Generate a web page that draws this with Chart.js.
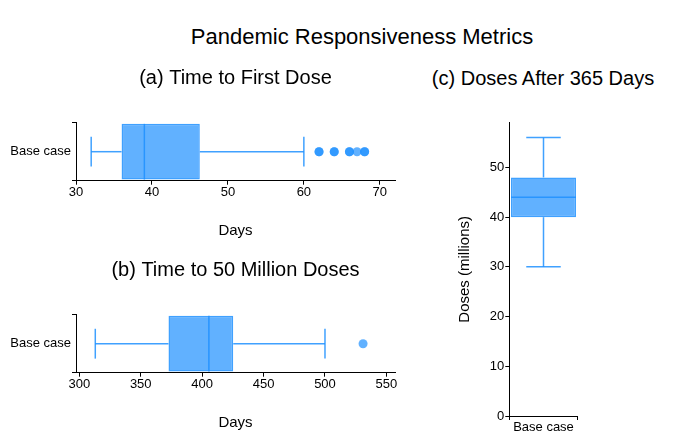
<!DOCTYPE html>
<html>
<head>
<meta charset="utf-8">
<script src="https://cdn.jsdelivr.net/npm/chart.js@4.4.1/dist/chart.umd.min.js"></script>
<style>
  body { margin: 0; background: #fff; font-family: "Liberation Sans", Arial, sans-serif; }
  #page { position: relative; width: 687px; height: 444px; overflow: hidden; }
  .txt { position: absolute; text-align: center; color: #000; }
  #main-title { left: 62px; width: 600px; top: 24px; font-size: 22px; line-height: 26px; }
  #title-c { left: 393px; width: 300px; top: 66px; font-size: 20px; line-height: 24px; }
  .box { position: absolute; }
</style>
</head>
<body>
<div id="page">
  <div id="main-title" class="txt">Pandemic Responsiveness Metrics</div>
  <div id="title-c" class="txt">(c) Doses After 365 Days</div>
  <div class="box" style="left:0;top:0;width:420px;height:250px"><canvas id="chart-a"></canvas></div>
  <div class="box" style="left:0;top:192px;width:420px;height:250px"><canvas id="chart-b"></canvas></div>
  <div class="box" style="left:420px;top:0;width:267px;height:444px"><canvas id="chart-c"></canvas></div>
</div>
<script>
// data: [min whisker, Q1, median, Q3, max whisker]
const categories = ['Base case'];
const firstDoseStats = [32, 36, 39, 46.3, 60];
const firstDoseOutliers = [62, 62, 64, 64, 66, 66, 67, 68, 68];
const fiftyMillionStats = [313, 372.6, 405.5, 425.3, 500];
const fiftyMillionOutliers = [531];
const dosesStats = [30, 40, 44, 48, 56];

const firstDoseRange = [30, 72];
const firstDoseTicks = [30, 40, 50, 60, 70];
const fiftyMillionRange = [297.3, 557];
const fiftyMillionTicks = [300, 350, 400, 450, 500, 550];
const dosesRange = [0, 59];
const dosesTicks = [0, 10, 20, 30, 40, 50];

const FONT = '"Liberation Sans", Arial, sans-serif';
const BLUE_FILL = 'rgba(30,144,255,0.7)';
const BLUE_LINE = 'rgba(30,144,255,0.85)';

// draws whiskers, caps and median on top of the floating bar
const boxWhiskers = {
  id: 'boxWhiskers',
  afterDatasetsDraw(chart, args, opts) {
    if (!opts.stats) return;
    const bar = chart.getDatasetMeta(0).data[0];
    const horizontal = chart.options.indexAxis === 'y';
    const vScale = horizontal ? chart.scales.x : chart.scales.y;
    const [lo, q1, med, q3, hi] = opts.stats.map(v => vScale.getPixelForValue(v));
    const p = bar.getProps(['x', 'y', 'width', 'height'], true);
    const ctx = chart.ctx;
    const seg = (x1, y1, x2, y2) => { ctx.beginPath(); ctx.moveTo(x1, y1); ctx.lineTo(x2, y2); ctx.stroke(); };
    ctx.save();
    ctx.strokeStyle = BLUE_LINE;
    ctx.lineWidth = 1.5;
    if (horizontal) {
      const c = p.y, half = p.height / 2, cap = half / 2 + 1;
      seg(lo, c, q1, c);
      seg(q3, c, hi, c);
      seg(lo, c - cap, lo, c + cap);
      seg(hi, c - cap, hi, c + cap);
      seg(med, c - half, med, c + half);
    } else {
      const c = p.x, half = p.width / 2, cap = half / 2 + 1;
      seg(c, lo, c, q1);
      seg(c, q3, c, hi);
      seg(c - cap, lo, c + cap, lo);
      seg(c - cap, hi, c + cap, hi);
      seg(c - half, med, c + half, med);
    }
    ctx.restore();
  }
};

function axisGrid(len) {
  return { display: true, drawOnChartArea: false, drawTicks: true, tickLength: len, color: '#000' };
}

function fixedTicks(values) {
  return function (scale) { scale.ticks = values.map(v => ({ value: v })); };
}

function horizontalBox(id, title, stats, outliers, range, tickValues) {
  new Chart(document.getElementById(id), {
    type: 'bar',
    data: {
      labels: categories,
      datasets: [{
        data: [[stats[1], stats[3]]],
        backgroundColor: BLUE_FILL,
        borderColor: BLUE_LINE,
        borderWidth: 1.5,
        borderSkipped: false,
        barPercentage: 0.96,
        categoryPercentage: 1
      }, {
        type: 'scatter',
        data: outliers.map(v => ({ x: v, y: categories[0] })),
        backgroundColor: BLUE_FILL,
        borderWidth: 0,
        pointRadius: 4.5
      }]
    },
    options: {
      indexAxis: 'y',
      responsive: true,
      maintainAspectRatio: false,
      animation: false,
      layout: { padding: { top: 66, left: 0, right: 25, bottom: 0 } },
      plugins: {
        legend: { display: false },
        tooltip: { enabled: false },
        title: {
          display: true, text: title, fullSize: false, color: '#000',
          font: { family: FONT, size: 20, weight: 'normal' },
          padding: { top: 0, bottom: 32.7 }
        },
        boxWhiskers: { stats: stats }
      },
      scales: {
        x: {
          type: 'linear', position: 'bottom',
          min: range[0], max: range[1], bounds: 'data',
          afterBuildTicks: fixedTicks(tickValues),
          ticks: { color: '#000', padding: 0, font: { family: FONT, size: 13 } },
          grid: axisGrid(4),
          border: { display: true, color: '#000', width: 1 },
          title: { display: true, text: 'Days', color: '#000',
            font: { family: FONT, size: 15 }, padding: { top: 0, bottom: 10.5 } },
          afterFit(scale) { scale.height = 69.3; }
        },
        y: {
          type: 'category', position: 'left', offset: true,
          ticks: { color: '#000', padding: 1, font: { family: FONT, size: 13 } },
          grid: axisGrid(4),
          border: { display: true, color: '#000', width: 1 },
          afterFit(scale) { scale.width = 76; }
        }
      }
    },
    plugins: [boxWhiskers]
  });
}

horizontalBox('chart-a', '(a) Time to First Dose', firstDoseStats, firstDoseOutliers, firstDoseRange, firstDoseTicks);
horizontalBox('chart-b', '(b) Time to 50 Million Doses', fiftyMillionStats, fiftyMillionOutliers, fiftyMillionRange, fiftyMillionTicks);

new Chart(document.getElementById('chart-c'), {
  type: 'bar',
  data: {
    labels: categories,
    datasets: [{
      data: [[dosesStats[1], dosesStats[3]]],
      backgroundColor: BLUE_FILL,
      borderColor: BLUE_LINE,
      borderWidth: 1.5,
      borderSkipped: false,
      barPercentage: 0.95,
      categoryPercentage: 1
    }]
  },
  options: {
    responsive: true,
    maintainAspectRatio: false,
    animation: false,
    layout: { padding: { top: 122.7, left: 0, right: 109.3, bottom: 0 } },
    plugins: {
      legend: { display: false },
      tooltip: { enabled: false },
      boxWhiskers: { stats: dosesStats }
    },
    scales: {
      x: {
        type: 'category', position: 'bottom', offset: true,
        ticks: { color: '#000', padding: 0, font: { family: FONT, size: 13 } },
        grid: axisGrid(4),
        border: { display: true, color: '#000', width: 1 },
        afterFit(scale) { scale.height = 28; }
      },
      y: {
        type: 'linear', position: 'left',
        min: dosesRange[0], max: dosesRange[1], bounds: 'data',
        afterBuildTicks: fixedTicks(dosesTicks),
        ticks: { color: '#000', padding: 1, font: { family: FONT, size: 13 } },
        grid: axisGrid(4),
        border: { display: true, color: '#000', width: 1 },
        title: { display: true, text: 'Doses (millions)', color: '#000',
          font: { family: FONT, size: 15 }, padding: { top: 36, bottom: 0 } },
        afterFit(scale) { scale.width = 89.3; }
      }
    }
  },
  plugins: [boxWhiskers]
});
</script>
</body>
</html>
